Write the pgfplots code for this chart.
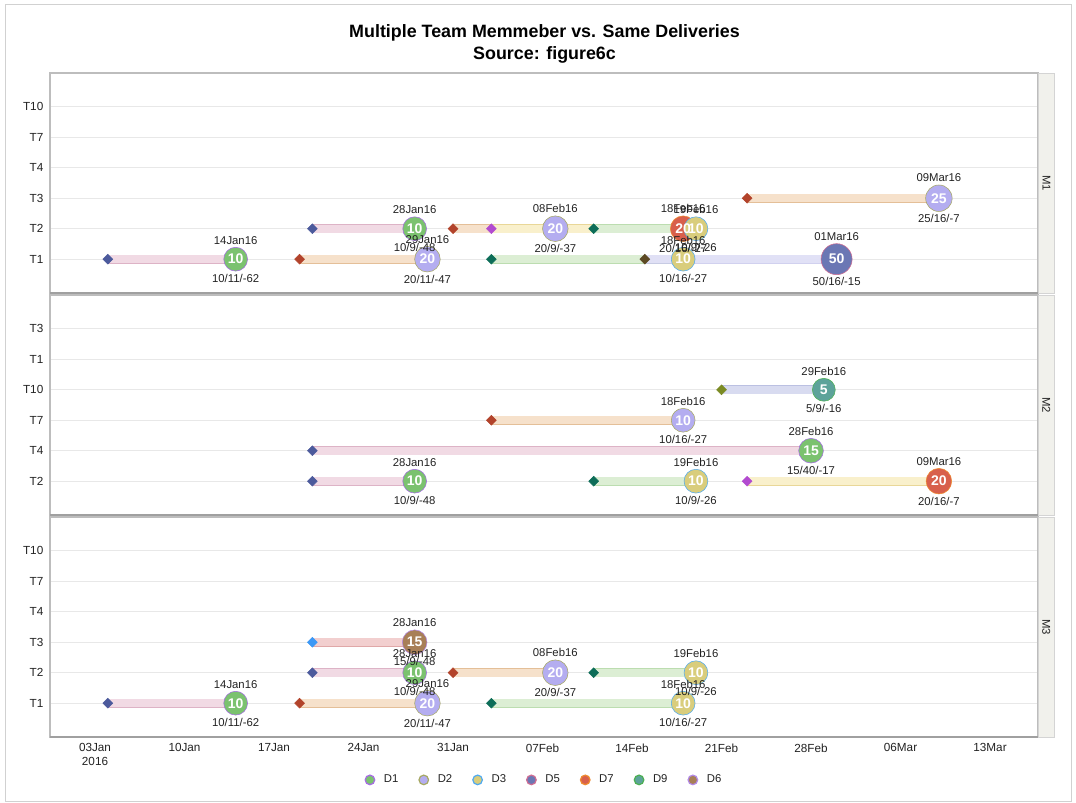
\documentclass[border=0pt]{standalone}
\usepackage{pgfplots}
\pgfplotsset{compat=1.18}
\usepackage{pgfplotstable}
\usetikzlibrary{calc}
\usepackage{fontspec}
\setmainfont{Liberation Sans}

% circle fills / outlines
\definecolor{cD1}{HTML}{7BC26F}\definecolor{oD1}{HTML}{A56BE3}
\definecolor{cD2}{HTML}{B4ADF0}\definecolor{oD2}{HTML}{A6A863}
\definecolor{cD3}{HTML}{D9CD7C}\definecolor{oD3}{HTML}{4FA9F0}
\definecolor{cD5}{HTML}{6B77B4}\definecolor{oD5}{HTML}{CF6D93}
\definecolor{cD7}{HTML}{D8604C}\definecolor{oD7}{HTML}{EF8A2E}
\definecolor{cD9}{HTML}{5DA39A}\definecolor{oD9}{HTML}{4CAF52}
\definecolor{cD6}{HTML}{A87F57}\definecolor{oD6}{HTML}{B38AE6}
% start diamonds
\definecolor{dNav}{HTML}{4C5A9C}\definecolor{dRed}{HTML}{B2432B}
\definecolor{dTeal}{HTML}{0D6D58}\definecolor{dMag}{HTML}{B24BD0}
\definecolor{dBrn}{HTML}{5D4A24}\definecolor{dOlv}{HTML}{7B8B24}
\definecolor{dLbl}{HTML}{3C98F5}
% bars (fill, edge)
\definecolor{bPink}{HTML}{F1DAE4}\definecolor{ePink}{HTML}{DDB3C6}
\definecolor{bOrg}{HTML}{F6E1CB}\definecolor{eOrg}{HTML}{E4BF98}
\definecolor{bGrn}{HTML}{DCEED4}\definecolor{eGrn}{HTML}{BCDDB0}
\definecolor{bYel}{HTML}{F9F0CC}\definecolor{eYel}{HTML}{E9D798}
\definecolor{bLav}{HTML}{E4E4F8}\definecolor{eLav}{HTML}{C9C9EC}
\definecolor{bBlu}{HTML}{D8DBF0}\definecolor{eBlu}{HTML}{BBC0E2}
\definecolor{bRed}{HTML}{F2CFCF}\definecolor{eRed}{HTML}{E0A8A8}
% misc
\definecolor{gridc}{HTML}{E8E8E8}
\definecolor{axc}{HTML}{BDBDBD}
\definecolor{axb}{HTML}{A0A0A0}
\definecolor{txt}{HTML}{222222}
\definecolor{stripbg}{HTML}{F1F1EC}
\definecolor{stripdr}{HTML}{D4D4D4}

\newcommand\lab{\fontsize{8.5}{10}\selectfont}
\newcommand\tck{\fontsize{8.8}{10.2}\selectfont}
\newcommand\cnum{\fontsize{10.5}{12}\selectfont\bfseries}

% s = start day, e = end day (day of year 2016), y = row, cls = delivery, v = size
\pgfplotstableread{
s  e  y cls v  r     date    stats     scls
4  14 1 D1  10 11.9  14Jan16 10/11/-62 sNav
19 29 1 D2  20 12.8  29Jan16 20/11/-47 sRed
34 49 1 D3  10 11.9  18Feb16 10/16/-27 sTeal
46 61 1 D5  50 15.5  01Mar16 50/16/-15 sBrn
20 28 2 D1  10 11.9  28Jan16 10/9/-48  sNav
31 39 2 D2  20 12.8  08Feb16 20/9/-37  sRed
34 49 2 D7  20 12.8  18Feb16 20/16/-27 sMag
42 50 2 D3  10 11.9  19Feb16 10/9/-26  sTeal
54 69 3 D2  25 13.25 09Mar16 25/16/-7  sRed
}\tblA
\pgfplotstableread{
s  e  y cls v  r     date    stats     scls
52 60 4 D9  5  11.45 29Feb16 5/9/-16   sOlv
34 49 3 D2  10 11.9  18Feb16 10/16/-27 sRed
20 59 2 D1  15 12.35 28Feb16 15/40/-17 sNav
20 28 1 D1  10 11.9  28Jan16 10/9/-48  sNav
42 50 1 D3  10 11.9  19Feb16 10/9/-26  sTeal
54 69 1 D7  20 12.8  09Mar16 20/16/-7  sMag
}\tblB
\pgfplotstableread{
s  e  y cls v  r     date    stats     scls
20 28 3 D6  15 12.35 28Jan16 15/9/-48  sLbl
20 28 2 D1  10 11.9  28Jan16 10/9/-48  sNav
31 39 2 D2  20 12.8  08Feb16 20/9/-37  sRed
42 50 2 D3  10 11.9  19Feb16 10/9/-26  sTeal
4  14 1 D1  10 11.9  14Jan16 10/11/-62 sNav
19 29 1 D2  20 12.8  29Jan16 20/11/-47 sRed
34 49 1 D3  10 11.9  18Feb16 10/16/-27 sTeal
}\tblC

\pgfplotsset{
  panel/.style={
    scale only axis, width=741pt, height=165pt,
    xmin=-0.52, xmax=76.75, ymin=-0.11, ymax=7.11,
    ytick={1,...,6}, xtick={3,10,...,73},
    major tick length=0pt,
    ymajorgrids, grid style={draw=gridc, line width=0.75pt},
    axis line style={draw=axc, line width=0.8pt},
    yticklabel style={font=\tck, text=txt, xshift=-1.5pt},
    xticklabel style={font=\tck, text=txt, align=center, yshift=-1.5pt},
    clip=false, anchor=north west,
  },
  bar/.style 2 args={forget plot, no markers, unbounded coords=jump,
    draw=#2, double=#1, double distance=5.8pt, line width=0.45pt},
  starts/.style={scatter, only marks, mark=square*, forget plot, mark size=2.6pt,
    mark options={rotate=45}, point meta=explicit symbolic,
    scatter/classes={sNav={fill=dNav,draw=dNav}, sRed={fill=dRed,draw=dRed},
      sTeal={fill=dTeal,draw=dTeal}, sMag={fill=dMag,draw=dMag},
      sBrn={fill=dBrn,draw=dBrn}, sOlv={fill=dOlv,draw=dOlv},
      sLbl={fill=dLbl,draw=dLbl}}},
  circles/.style={scatter, only marks, mark=*, forget plot, point meta=explicit symbolic,
    scatter/classes={D1={fill=cD1,draw=oD1}, D2={fill=cD2,draw=oD2},
      D3={fill=cD3,draw=oD3}, D5={fill=cD5,draw=oD5}, D7={fill=cD7,draw=oD7},
      D9={fill=cD9,draw=oD9}, D6={fill=cD6,draw=oD6}},
    visualization depends on={\thisrow{r} \as \rr},
    scatter/@pre marker code/.append style={/tikz/mark size=0.75pt*\rr, /tikz/line width=0.9pt}},
  lbl/.style={only marks, mark=none, forget plot, nodes near coords,
    point meta=explicit symbolic, visualization depends on={\thisrow{r} \as \rr}},
  dates/.style={lbl, every node near coord/.append style={anchor=center, font=\lab, text=txt, yshift={0.75pt*(\rr+7)}}},
  stats/.style={lbl, every node near coord/.append style={anchor=center, font=\lab, text=txt, yshift={-0.75pt*(\rr+7)}}},
  nums/.style={lbl, every node near coord/.append style={anchor=center, font=\cnum, text=white}},
}

\begin{document}
\begin{tikzpicture}
\path[use as bounding box] (0,0) rectangle (807pt,-602.25pt);
\draw[draw=black!18, line width=0.6pt] (3.75pt,-3pt) rectangle (803.25pt,-600.75pt);

\node[font=\fontsize{13.4}{16}\selectfont\bfseries, anchor=base] at (408.4pt,-28.3pt) {Multiple Team Memmeber vs. Same Deliveries};
\node[font=\fontsize{13.4}{16}\selectfont\bfseries, anchor=base] at (408.4pt,-44.8pt) {Source: figure6c};

% ---------------- M1 ----------------
\begin{axis}[panel, name=p1, at={(37.5pt,-54.75pt)},
  yticklabels={T1,T2,T3,T4,T7,T10}, xticklabels={}]
\addplot[bar={bPink}{ePink}] coordinates {(4,1) (14,1) (nan,nan) (20,2) (28,2)};
\addplot[bar={bOrg}{eOrg}] coordinates {(19,1) (29,1) (nan,nan) (31,2) (39,2) (nan,nan) (54,3) (69,3)};
\addplot[bar={bYel}{eYel}] coordinates {(34,2) (49,2)};
\addplot[bar={bGrn}{eGrn}] coordinates {(34,1) (49,1) (nan,nan) (42,2) (50,2)};
\addplot[bar={bLav}{eLav}, opacity=0.85] coordinates {(46,1) (61,1)};
\addplot[starts] table[x=s, y=y, meta=scls] {\tblA};
\addplot[circles] table[x=e, y=y, meta=cls] {\tblA};
\addplot[dates] table[x=e, y=y, meta=date] {\tblA};
\addplot[stats] table[x=e, y=y, meta=stats] {\tblA};
\addplot[nums] table[x=e, y=y, meta=v] {\tblA};
\end{axis}

% ---------------- M2 ----------------
\begin{axis}[panel, name=p2, at={(37.5pt,-221.25pt)},
  yticklabels={T2,T4,T7,T10,T1,T3}, xticklabels={}]
\addplot[bar={bBlu}{eBlu}] coordinates {(52,4) (60,4)};
\addplot[bar={bOrg}{eOrg}] coordinates {(34,3) (49,3)};
\addplot[bar={bPink}{ePink}] coordinates {(20,2) (59,2) (nan,nan) (20,1) (28,1)};
\addplot[bar={bGrn}{eGrn}] coordinates {(42,1) (50,1)};
\addplot[bar={bYel}{eYel}] coordinates {(54,1) (69,1)};
\addplot[starts] table[x=s, y=y, meta=scls] {\tblB};
\addplot[circles] table[x=e, y=y, meta=cls] {\tblB};
\addplot[dates] table[x=e, y=y, meta=date] {\tblB};
\addplot[stats] table[x=e, y=y, meta=stats] {\tblB};
\addplot[nums] table[x=e, y=y, meta=v] {\tblB};
\end{axis}

% ---------------- M3 ----------------
\begin{axis}[panel, name=p3, at={(37.5pt,-387.75pt)},
  yticklabels={T1,T2,T3,T4,T7,T10},
  xticklabels={{03Jan\\2016},10Jan,17Jan,24Jan,31Jan,07Feb,14Feb,21Feb,28Feb,06Mar,13Mar},
  legend columns=7,
  legend style={at={(0.5,-0.195)}, anchor=center, draw=none, fill=none, font=\lab,
    text=txt, /tikz/every even column/.append style={column sep=12.5pt}},
  legend image code/.code={\path[draw=none, fill=none] (0pt,0pt) rectangle (13pt,0pt); \draw[#1] plot coordinates {(4.5pt,0pt)};},
]
\addplot[bar={bRed}{eRed}] coordinates {(20,3) (28,3)};
\addplot[bar={bPink}{ePink}] coordinates {(20,2) (28,2) (nan,nan) (4,1) (14,1)};
\addplot[bar={bOrg}{eOrg}] coordinates {(31,2) (39,2) (nan,nan) (19,1) (29,1)};
\addplot[bar={bGrn}{eGrn}] coordinates {(42,2) (50,2) (nan,nan) (34,1) (49,1)};
\addplot[starts] table[x=s, y=y, meta=scls] {\tblC};
\addplot[circles] table[x=e, y=y, meta=cls] {\tblC};
\addplot[dates] table[x=e, y=y, meta=date] {\tblC};
\addplot[stats] table[x=e, y=y, meta=stats] {\tblC};
\addplot[nums] table[x=e, y=y, meta=v] {\tblC};
\addlegendimage{only marks, mark=*, mark size=3.6pt, mark options={fill=cD1, draw=oD1, line width=0.9pt}}
\addlegendentry{D1}
\addlegendimage{only marks, mark=*, mark size=3.6pt, mark options={fill=cD2, draw=oD2, line width=0.9pt}}
\addlegendentry{D2}
\addlegendimage{only marks, mark=*, mark size=3.6pt, mark options={fill=cD3, draw=oD3, line width=0.9pt}}
\addlegendentry{D3}
\addlegendimage{only marks, mark=*, mark size=3.6pt, mark options={fill=cD5, draw=oD5, line width=0.9pt}}
\addlegendentry{D5}
\addlegendimage{only marks, mark=*, mark size=3.6pt, mark options={fill=cD7, draw=oD7, line width=0.9pt}}
\addlegendentry{D7}
\addlegendimage{only marks, mark=*, mark size=3.6pt, mark options={fill=cD9, draw=oD9, line width=0.9pt}}
\addlegendentry{D9}
\addlegendimage{only marks, mark=*, mark size=3.6pt, mark options={fill=cD6, draw=oD6, line width=0.9pt}}
\addlegendentry{D6}
\end{axis}

% bottom borders and strips
\foreach \p/\m in {p1/M1, p2/M2, p3/M3} {
  \draw[draw=axb, line width=1.4pt] (\p.south west) -- (\p.south east);
  \draw[draw=stripdr, fill=stripbg, line width=0.6pt] ([xshift=0.6pt]\p.north east) rectangle ([xshift=12pt]\p.south east);
  \node[font=\lab, text=txt, rotate=-90] at ($([xshift=6.3pt]\p.north east)!0.5!([xshift=6.3pt]\p.south east)$) {\m};
}
\end{tikzpicture}
\end{document}
